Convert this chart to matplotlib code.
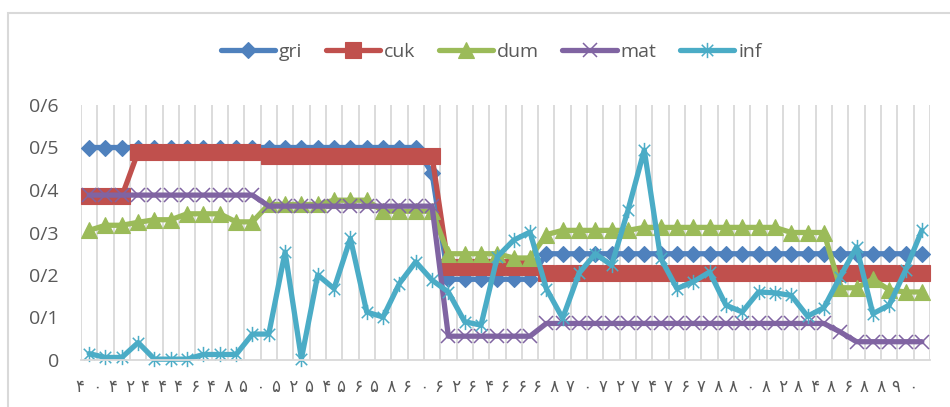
import matplotlib
matplotlib.use("Agg")
import matplotlib.pyplot as plt
from matplotlib.path import Path
from matplotlib.patches import Rectangle
import numpy as np

# ---------------- data ----------------
years = [40, 41, 42, 43, 44, 45, 46, 47, 48, 49, 50, 51, 52, 53, 54, 55, 56, 57,
         58, 59, 60, 61, 62, 63, 64, 65, 66, 67, 68, 69, 70, 71, 72, 73, 74, 75,
         76, 77, 78, 79, 80, 81, 82, 83, 84, 85, 86, 87, 88, 89, 90, 91]

gri = [0.50, 0.50, 0.50, 0.50, 0.50, 0.50, 0.50, 0.50, 0.50, 0.50, 0.50, 0.50,
       0.50, 0.50, 0.50, 0.50, 0.50, 0.50, 0.50, 0.50, 0.50, 0.44, 0.19, 0.19,
       0.19, 0.19, 0.19, 0.19, 0.25, 0.25, 0.25, 0.25, 0.25, 0.25, 0.25, 0.25,
       0.25, 0.25, 0.25, 0.25, 0.25, 0.25, 0.25, 0.25, 0.25, 0.25, 0.25, 0.25,
       0.25, 0.25, 0.25, 0.25]

cuk = [0.385, 0.385, 0.385, 0.49, 0.49, 0.49, 0.49, 0.49, 0.49, 0.49, 0.49,
       0.48, 0.48, 0.48, 0.48, 0.48, 0.48, 0.48, 0.48, 0.48, 0.48, 0.48,
       0.22, 0.22, 0.22, 0.22, 0.22, 0.22, 0.205, 0.205, 0.205, 0.205, 0.205,
       0.205, 0.205, 0.205, 0.205, 0.205, 0.205, 0.205, 0.205, 0.205, 0.205,
       0.205, 0.205, 0.205, 0.205, 0.205, 0.205, 0.205, 0.205, 0.205]

dum = [0.305, 0.317, 0.317, 0.324, 0.33, 0.33, 0.344, 0.344, 0.344, 0.325, 0.325,
       0.366, 0.366, 0.366, 0.366, 0.376, 0.376, 0.376, 0.35, 0.35, 0.35, 0.35,
       0.25, 0.25, 0.25, 0.25, 0.24, 0.24, 0.295, 0.305, 0.305, 0.305, 0.305,
       0.305, 0.312, 0.312, 0.312, 0.312, 0.312, 0.312, 0.312, 0.312, 0.312,
       0.30, 0.30, 0.30, 0.17, 0.17, 0.19, 0.165, 0.16, 0.16]

mat = [0.388, 0.388, 0.388, 0.388, 0.388, 0.388, 0.388, 0.388, 0.388, 0.388, 0.388,
       0.362, 0.362, 0.362, 0.362, 0.362, 0.362, 0.362, 0.362, 0.362, 0.362, 0.362,
       0.056, 0.056, 0.056, 0.056, 0.056, 0.056, 0.086, 0.086, 0.086, 0.086, 0.086,
       0.086, 0.086, 0.086, 0.086, 0.086, 0.086, 0.086, 0.086, 0.086, 0.086, 0.086,
       0.086, 0.086, 0.066, 0.043, 0.043, 0.043, 0.043, 0.043]

inf = [0.015, 0.006, 0.006, 0.041, 0.002, 0.002, 0.002, 0.013, 0.013, 0.013, 0.061,
       0.061, 0.254, 0.003, 0.20, 0.168, 0.286, 0.113, 0.101, 0.18, 0.231, 0.188,
       0.16, 0.09, 0.082, 0.243, 0.282, 0.301, 0.168, 0.098, 0.204, 0.25, 0.223,
       0.352, 0.494, 0.24, 0.168, 0.184, 0.207, 0.129, 0.113, 0.16, 0.158, 0.152,
       0.103, 0.123, 0.196, 0.266, 0.109, 0.129, 0.211, 0.305]

xtick_labels = ["۴۰", "۴۲", "۴۴", "۴۶", "۴۸", "۵۰", "۵۲", "۵۴", "۵۶", "۵۸", "۶۰",
                "۶۲", "۶۴", "۶۶", "۶۸", "۷۰", "۷۲", "۷۴", "۷۶", "۷۸", "۸۰", "۸۲",
                "۸۴", "۸۶", "۸۸", "۹۰"]
ytick_values = [0.0, 0.1, 0.2, 0.3, 0.4, 0.5, 0.6]
ytick_labels = ["0", "0/1", "0/2", "0/3", "0/4", "0/5", "0/6"]

series_names = ["gri", "cuk", "dum", "mat", "inf"]
series_values = [gri, cuk, dum, mat, inf]

# ---------------- style ----------------
colors = ["#4F81BD", "#C0504D", "#9BBB59", "#8064A2", "#4BACC6"]
label_color = "#595959"
grid_color = "#D9D9D9"

# Excel-like star marker: vertical line + X
star = Path([(0, -1), (0, 1), (-0.75, -0.75), (0.75, 0.75), (-0.75, 0.75), (0.75, -0.75)],
            [Path.MOVETO, Path.LINETO, Path.MOVETO, Path.LINETO, Path.MOVETO, Path.LINETO])

marker_specs = [
    dict(marker="D", markersize=8.5, markeredgewidth=0.8),
    dict(marker="s", markersize=11.5, markeredgewidth=0.8),
    dict(marker="^", markersize=11, markeredgewidth=0.8),
    dict(marker="x", markersize=10.5, markeredgewidth=1.1),
    dict(marker=star, markersize=11, markeredgewidth=1.1),
]

fig = plt.figure(figsize=(9.5, 4.07), dpi=100)
W, H = 950, 407
ax = fig.add_axes([81 / W, (H - 360) / H, (930 - 81) / W, (360 - 105) / H])

x = np.arange(len(years))
for name, vals, col, ms in zip(series_names, series_values, colors, marker_specs):
    ax.plot(x, vals, color=col, lw=3.8, label=name, markerfacecolor=col,
            markeredgecolor=col, clip_on=False, solid_capstyle="round",
            solid_joinstyle="round", **ms)

ax.set_xlim(-0.5, len(years) - 0.5)
ax.set_ylim(0, 0.6)

# vertical gridlines between categories
for b in np.arange(-0.5, len(years), 1.0):
    ax.axvline(b, color=grid_color, lw=1.3, zorder=0)

for s in ["top", "right", "left"]:
    ax.spines[s].set_visible(False)
ax.spines["bottom"].set_color(grid_color)
ax.spines["bottom"].set_linewidth(1.3)

ax.set_yticks(ytick_values)
ax.set_yticklabels(ytick_labels, fontsize=14, color=label_color, family="Open Sans")
ax.tick_params(axis="y", length=0, pad=16)

ax.set_xticks(x[::2])
ax.set_xticklabels(["\u2002".join(list(t)) for t in xtick_labels], fontsize=12,
                   color=label_color, family="DejaVu Sans")
ax.tick_params(axis="x", length=0, pad=13)

leg = fig.legend(loc="center", bbox_to_anchor=(0.517, 1 - 52 / H), ncol=5,
                 frameon=False, numpoints=1, handlelength=2.8, handletextpad=0.2,
                 columnspacing=1.2, prop={"family": "Open Sans", "size": 14})
for t in leg.get_texts():
    t.set_color(label_color)

# outer chart border
fig.patches.append(Rectangle((8 / W, -0.1), 1.1, 1 - 13 / H + 0.1, transform=fig.transFigure,
                             fill=False, edgecolor=grid_color, lw=1.5))

fig.savefig("out.png", dpi=100)
